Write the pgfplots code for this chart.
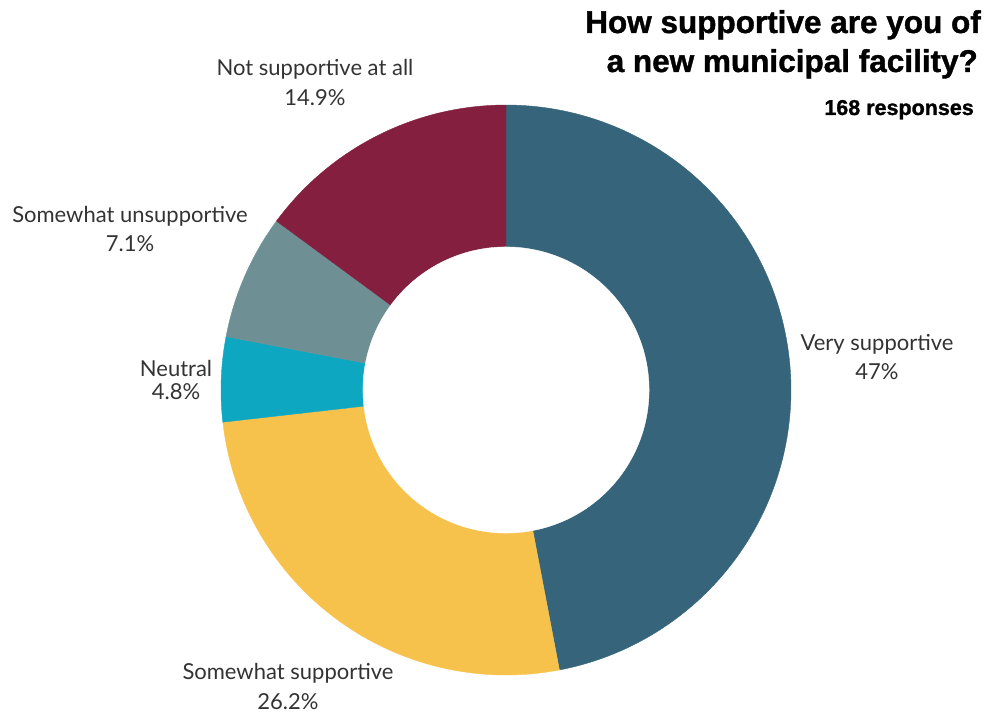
\documentclass[border=0pt]{standalone}
\usepackage{pgfplots}
\pgfplotsset{compat=1.18}
\usepackage{fontspec}
\setmainfont{Lato}
\newfontfamily\titlefont[FakeBold=1.2]{Liberation Sans}
\definecolor{cVery}{HTML}{36657B}
\definecolor{cSome}{HTML}{F7C24C}
\definecolor{cNeut}{HTML}{0EA7C2}
\definecolor{cUns}{HTML}{6E8F94}
\definecolor{cNot}{HTML}{841F3F}
\definecolor{txt}{HTML}{333333}
% shares (percent), clockwise from the top
\def\vA{47}\def\vB{26.2}\def\vC{4.8}\def\vD{7.1}\def\vE{14.9}
\pgfmathsetmacro\aA{90}
\pgfmathsetmacro\aB{\aA-3.6*\vA}
\pgfmathsetmacro\aC{\aB-3.6*\vB}
\pgfmathsetmacro\aD{\aC-3.6*\vC}
\pgfmathsetmacro\aE{\aD-3.6*\vD}
\pgfmathsetmacro\aF{\aE-3.6*\vE}
\begin{document}
\begin{tikzpicture}[x=1pt,y=1pt]
\path[use as bounding box] (0,0) rectangle (998,713);
\begin{axis}[at={(506pt,323pt)}, anchor=center, width=570pt, height=570pt,
  scale only axis, xmin=-1, xmax=1, ymin=-1, ymax=1, hide axis, clip=false]
\addplot[fill=cVery, draw=cVery, line width=0.4pt, domain=\aB:\aA, samples=120, variable=\t] ({cos(t)},{sin(t)}) -- (axis cs:0,0) -- cycle;
\addplot[fill=cSome, draw=cSome, line width=0.4pt, domain=\aC:\aB, samples=80, variable=\t] ({cos(t)},{sin(t)}) -- (axis cs:0,0) -- cycle;
\addplot[fill=cNeut, draw=cNeut, line width=0.4pt, domain=\aD:\aC, samples=30, variable=\t] ({cos(t)},{sin(t)}) -- (axis cs:0,0) -- cycle;
\addplot[fill=cUns, draw=cUns, line width=0.4pt, domain=\aE:\aD, samples=30, variable=\t] ({cos(t)},{sin(t)}) -- (axis cs:0,0) -- cycle;
\addplot[fill=cNot, draw=cNot, line width=0.4pt, domain=\aF:\aE, samples=50, variable=\t] ({cos(t)},{sin(t)}) -- (axis cs:0,0) -- cycle;
\addplot[fill=white, draw=white, line width=0.4pt, domain=0:360, samples=200, variable=\t] ({0.502*cos(t)},{0.502*sin(t)}) -- cycle;
\end{axis}
% labels
\begin{scope}[every node/.style={align=center, text=txt, inner sep=0pt}]
\node[font=\fontsize{22}{29}\selectfont] at (877,356) {Very supportive\\47\%};
\node[font=\fontsize{22}{30}\selectfont] at (288,27) {Somewhat supportive\\26.2\%};
\node[font=\fontsize{22}{23}\selectfont] at (176,333) {Neutral\\4.8\%};
\node[font=\fontsize{22}{29}\selectfont] at (130,484) {Somewhat unsupportive\\7.1\%};
\node[font=\fontsize{22}{30}\selectfont] at (315,631) {Not supportive at all\\14.9\%};
\end{scope}
% title
\node[anchor=base east, inner sep=0pt, font=\titlefont\bfseries\fontsize{31.5}{36}\selectfont] at (981,680) {How supportive are you of};
\node[anchor=base east, inner sep=0pt, font=\titlefont\bfseries\fontsize{31.5}{36}\selectfont] at (978,641) {a new municipal facility?};
\node[anchor=base east, inner sep=0pt, font=\titlefont\bfseries\fontsize{21.5}{24}\selectfont] at (974,598) {168 responses};
\end{tikzpicture}
\end{document}
